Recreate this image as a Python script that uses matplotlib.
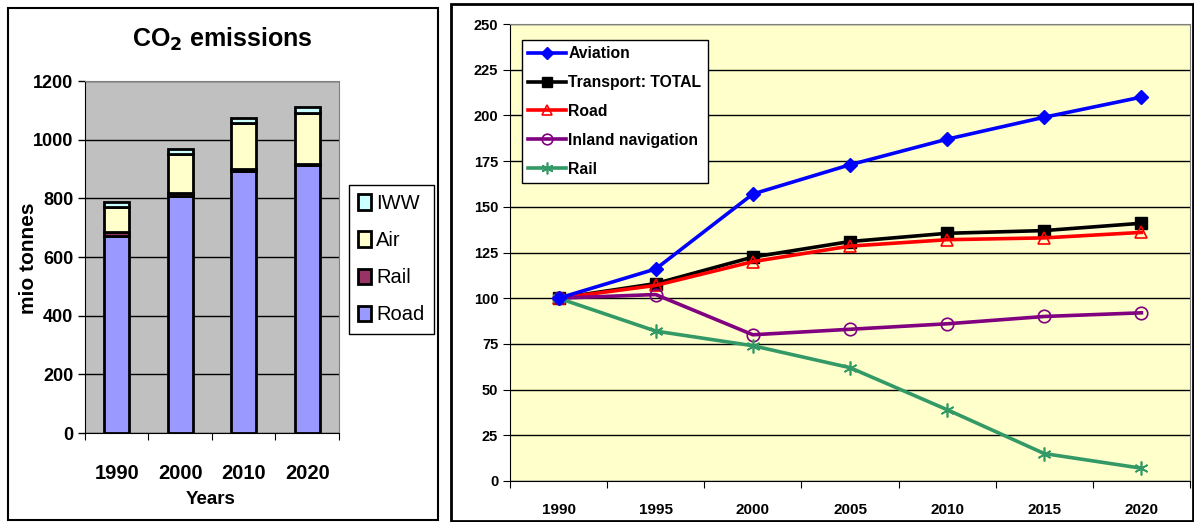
import matplotlib.pyplot as plt
import numpy as np
from matplotlib.patches import Rectangle

# left panel: CO2 emissions, stacked bars (mio tonnes)
bar_years = ['1990', '2000', '2010', '2020']
road = [672, 808, 893, 913]
rail = [12, 10, 7, 4]
air = [85, 133, 157, 174]
iww = [20, 17, 17, 20]

# right panel: index 1990 = 100
line_years = ['1990', '1995', '2000', '2005', '2010', '2015', '2020']
aviation = [100, 116, 157, 173, 187, 199, 210]
total = [100, 108, 122.5, 131, 135.5, 137, 141]
road_idx = [100, 107, 120, 128.5, 132, 133, 136]
inland = [100, 102, 80, 83, 86, 90, 92]
rail_idx = [100, 82, 74, 62, 39, 15, 7]

plt.rcParams['font.family'] = ['Liberation Sans', 'DejaVu Sans']

W, H = 1194, 522
fig = plt.figure(figsize=(W / 100, H / 100), dpi=100)


def fx(px):
    return px / W


def fy(py):
    return 1 - py / H


# panel frames
fig.patches.append(Rectangle((fx(8), fy(520)), fx(430), 512 / H, transform=fig.transFigure,
                             fill=False, ec='black', lw=1.5))
fig.patches.append(Rectangle((fx(451), fy(521)), fx(742), 517 / H, transform=fig.transFigure,
                             fill=False, ec='black', lw=2))

# ---- left chart ----
ax1 = fig.add_axes([fx(85), fy(433), fx(254), 352 / H])
ax1.set_facecolor('#C0C0C0')
x = np.arange(len(bar_years))
kw = dict(width=0.4, edgecolor='black', linewidth=2, zorder=3)
b_road = ax1.bar(x, road, color='#9999FF', **kw)
bot = np.array(road)
b_rail = ax1.bar(x, rail, bottom=bot, color='#993366', **kw)
bot = bot + np.array(rail)
b_air = ax1.bar(x, air, bottom=bot, color='#FFFFCC', **kw)
bot = bot + np.array(air)
b_iww = ax1.bar(x, iww, bottom=bot, color='#CCFFFF', **kw)
ax1.set_xlim(-0.5, len(bar_years) - 0.5)
ax1.set_ylim(0, 1200)
ax1.set_yticks(range(0, 1201, 200))
ax1.yaxis.grid(True, color='black', lw=1)
ax1.set_axisbelow(True)
ax1.set_xticks(np.arange(-0.5, len(bar_years), 1))
ax1.set_xticklabels([])
ax1.set_xticks(x, minor=True)
ax1.set_xticklabels(bar_years, minor=True, fontsize=14.5, fontweight='bold')
ax1.tick_params(axis='x', which='minor', length=0, pad=22)
ax1.tick_params(axis='x', which='major', length=5, direction='out')
ax1.tick_params(axis='y', labelsize=13, length=5, width=1)
for lab in ax1.get_yticklabels():
    lab.set_fontweight('bold')
for s in ['top', 'right']:
    ax1.spines[s].set_color('#808080')
fig.text(fx(211), fy(500), 'Years', ha='center', va='center', fontsize=13.5, fontweight='bold')
fig.text(fx(28), fy(258), 'mio tonnes', ha='center', va='center', rotation=90,
         fontsize=15, fontweight='bold')
fig.text(fx(222), fy(39), 'CO$_\\mathbf{2}$ emissions', ha='center', va='center',
         fontsize=18, fontweight='bold')
leg1 = ax1.legend([b_iww, b_air, b_rail, b_road], ['IWW', 'Air', 'Rail', 'Road'],
                  loc='upper left', bbox_to_anchor=(fx(349), fy(185)), bbox_transform=fig.transFigure,
                  fancybox=False, edgecolor='black', fontsize=14.5, handlelength=0.65,
                  handleheight=0.8, handletextpad=0.25, labelspacing=0.9, borderpad=0.45,
                  borderaxespad=0, framealpha=1)
leg1.get_frame().set_linewidth(1)

# ---- right chart ----
ax2 = fig.add_axes([fx(510), fy(481), fx(680), 457 / H])
ax2.set_facecolor('#FFFFCC')
xi = np.arange(len(line_years))
lw = 2.6
l_av, = ax2.plot(xi, aviation, color='#0000FF', lw=lw, marker='D', ms=7, zorder=5)
l_tot, = ax2.plot(xi, total, color='black', lw=lw, marker='s', ms=8, zorder=4)
l_rd, = ax2.plot(xi, road_idx, color='#FF0000', lw=lw, marker='^', ms=9, mfc='none',
                 mec='#FF0000', mew=1.2, zorder=4)
l_in, = ax2.plot(xi, inland, color='#800080', lw=lw, marker='o', ms=9, mfc='none',
                 mec='#800080', mew=1.2, zorder=4)
l_rl, = ax2.plot(xi, rail_idx, color='#339966', lw=lw, marker=(6, 2, 0), ms=10,
                 mec='#339966', mew=1.2, zorder=4)
ax2.set_xlim(-0.5, len(line_years) - 0.5)
ax2.set_ylim(0, 250)
ax2.set_yticks(range(0, 251, 25))
ax2.yaxis.grid(True, color='black', lw=1)
ax2.set_axisbelow(True)
ax2.set_xticks(np.arange(-0.5, len(line_years), 1))
ax2.set_xticklabels([])
ax2.set_xticks(xi, minor=True)
ax2.set_xticklabels(line_years, minor=True, fontsize=11, fontweight='bold')
ax2.tick_params(axis='x', which='minor', length=0, pad=16)
ax2.tick_params(axis='x', which='major', length=5, direction='out')
ax2.tick_params(axis='y', labelsize=10.5, length=5)
for lab in ax2.get_yticklabels():
    lab.set_fontweight('bold')
for s in ['top', 'right']:
    ax2.spines[s].set_color('#808080')
leg2 = ax2.legend([l_av, l_tot, l_rd, l_in, l_rl],
                  ['Aviation', 'Transport: TOTAL', 'Road', 'Inland navigation', 'Rail'],
                  loc='upper left', bbox_to_anchor=(fx(522), fy(40)), bbox_transform=fig.transFigure,
                  fancybox=False, edgecolor='black', fontsize=11.3, handlelength=2.4,
                  handletextpad=0.15, labelspacing=0.88, borderpad=0.4, borderaxespad=0,
                  framealpha=1, facecolor='white', markerscale=0.85)
leg2.get_frame().set_linewidth(1)
for t in leg2.get_texts():
    t.set_fontweight('bold')

fig.savefig('out.png', dpi=100)
